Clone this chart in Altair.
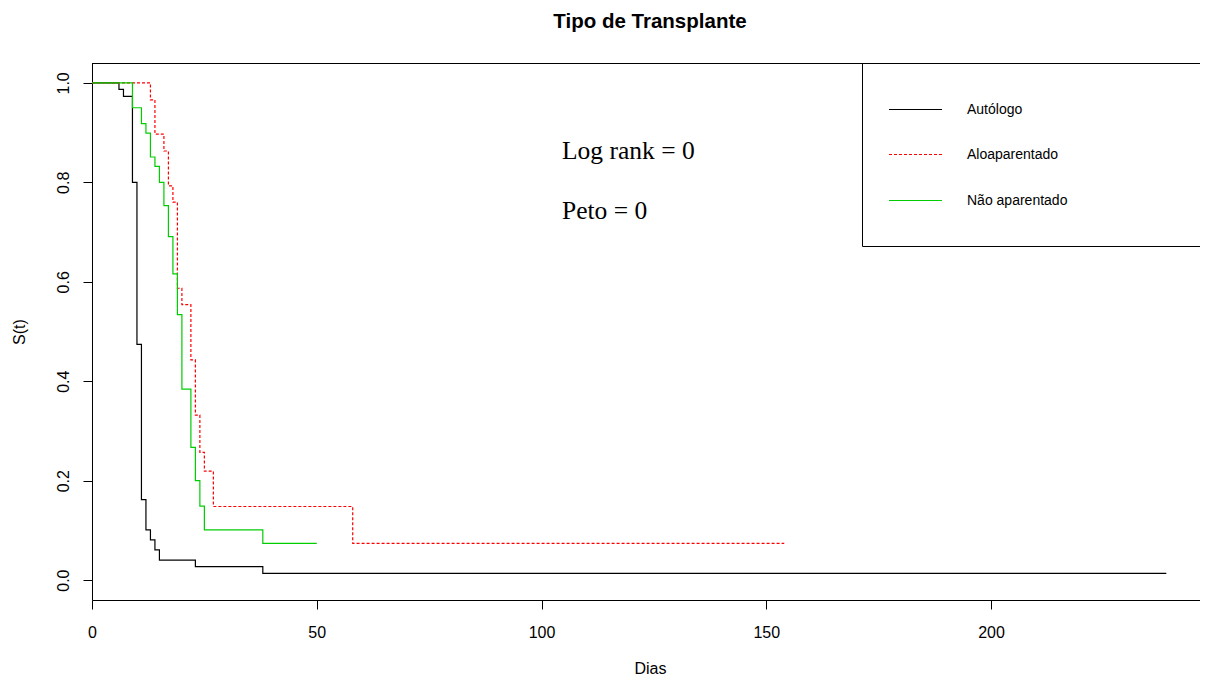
import altair as alt
import pandas as pd

# ---- data ----
categories = ["Autólogo", "Aloaparentado", "Não aparentado"]
colors = ["#000000", "#FF0000", "#00CD00"]
dash_patterns = [[1, 0], [3, 2], [1, 0]]

times_auto = [0, 6, 7, 9, 10, 11, 12, 13, 14, 15, 23, 38, 239]
surv_auto = [1.0, 0.987, 0.973, 0.800, 0.474, 0.162, 0.101, 0.081, 0.061, 0.040, 0.027, 0.0135, 0.0135]

times_aloap = [0, 13, 14, 16, 17, 18, 19, 20, 22, 23, 24, 25, 27, 58, 154]
surv_aloap = [1.0, 0.966, 0.897, 0.863, 0.793, 0.760, 0.587, 0.554, 0.443, 0.332, 0.257, 0.219, 0.148, 0.074, 0.074]

times_naoap = [0, 9, 11, 12, 13, 14, 15, 16, 17, 18, 19, 20, 22, 23, 24, 25, 38, 50]
surv_naoap = [1.0, 0.950, 0.918, 0.899, 0.851, 0.832, 0.800, 0.753, 0.691, 0.616, 0.534, 0.384, 0.267, 0.200, 0.149, 0.101, 0.074, 0.074]

x_ticks = [0, 50, 100, 150, 200]
y_ticks = [0.0, 0.2, 0.4, 0.6, 0.8, 1.0]
annotations = ["Log rank = 0", "Peto = 0"]
chart_title = "Tipo de Transplante"
x_title = "Dias"
y_title = "S(t)"

# ---- build table ----
rows = []
for cat, ts, ss in zip(categories,
                       [times_auto, times_aloap, times_naoap],
                       [surv_auto, surv_aloap, surv_naoap]):
    for i, (t, s) in enumerate(zip(ts, ss)):
        rows.append({"grupo": cat, "dias": t, "S": s, "ordem": i})
df = pd.DataFrame(rows)

W, H = 1108, 537
X_MAX = W / 4.495
SANS = "Liberation Sans"
SERIF = "Liberation Serif"

color_scale = alt.Scale(domain=categories, range=colors)
dash_scale = alt.Scale(domain=categories, range=dash_patterns)

curves = alt.Chart(df).mark_line(interpolate="step-after", strokeWidth=1.2).encode(
    x=alt.X("dias:Q",
            scale=alt.Scale(domain=[0, X_MAX], nice=False, zero=False),
            axis=alt.Axis(values=x_ticks, title=x_title, grid=False,
                          tickSize=9, labelPadding=15, labelFlush=False,
                          labelFont=SANS, labelFontSize=16, labelColor="black",
                          titleFont=SANS, titleFontSize=16, titleFontWeight="normal",
                          titleColor="black", titleX=558, titleY=73,
                          titleBaseline="alphabetic", titleAlign="center",
                          domainColor="black", tickColor="black")),
    y=alt.Y("S:Q",
            scale=alt.Scale(domain=[-0.04, 1.04], nice=False, zero=False),
            axis=alt.Axis(values=y_ticks, format=".1f", title=y_title, grid=False,
                          tickSize=9, labelPadding=15, labelFlush=False,
                          labelAngle=270, labelAlign="center", labelBaseline="alphabetic",
                          labelFont=SANS, labelFontSize=16, labelColor="black",
                          titleFont=SANS, titleFontSize=16, titleFontWeight="normal",
                          titleColor="black", titleAngle=270, titleX=-73, titleY=268.5,
                          titleAlign="center", titleBaseline="middle",
                          domainColor="black", tickColor="black")),
    color=alt.Color("grupo:N", scale=color_scale, legend=None),
    strokeDash=alt.StrokeDash("grupo:N", scale=dash_scale, legend=None),
    detail="grupo:N",
    order="ordem:Q",
)

one = pd.DataFrame({"k": [0]})

top_border = alt.Chart(one).mark_rule(color="black", strokeWidth=1).encode(
    x=alt.value(0), x2=alt.value(W), y=alt.value(0.5))

# legend box (its right side is cut by the picture edge, as in the reference)
LX, LB = 770.5, 183.5
legend_left = alt.Chart(one).mark_rule(color="black", strokeWidth=1).encode(
    x=alt.value(LX), y=alt.value(0), y2=alt.value(LB))
legend_bottom = alt.Chart(one).mark_rule(color="black", strokeWidth=1).encode(
    x=alt.value(LX), x2=alt.value(W), y=alt.value(LB))

legend_layers = []
legend_rows_y = [46.5, 91.5, 137.5]
for cat, col, dsh, ly in zip(categories, colors, dash_patterns, legend_rows_y):
    d = pd.DataFrame({"grupo": [cat]})
    legend_layers.append(
        alt.Chart(d).mark_rule(color=col, strokeDash=dsh, strokeWidth=1.2).encode(
            x=alt.value(797), x2=alt.value(850), y=alt.value(ly)))
    legend_layers.append(
        alt.Chart(d).mark_text(align="left", baseline="middle", font=SANS,
                               fontSize=14, color="black").encode(
            x=alt.value(875), y=alt.value(ly), text="grupo:N"))

annot_layers = []
for txt, ay in zip(annotations, [96, 156]):
    annot_layers.append(
        alt.Chart(pd.DataFrame({"rotulo": [txt]})).mark_text(
            align="left", baseline="alphabetic", font=SERIF, fontSize=25.5,
            color="black").encode(x=alt.value(470), y=alt.value(ay), text="rotulo:N"))

chart = alt.layer(curves, top_border, legend_left, legend_bottom,
                  *legend_layers, *annot_layers).properties(
    width=W, height=H,
    title=alt.TitleParams(chart_title, font=SANS, fontSize=20.5, fontWeight="bold",
                          color="black", anchor="middle", frame="group", dx=4, offset=30),
    autosize=alt.AutoSizeParams(type="none"),
    padding={"left": 84, "top": 55, "right": 0, "bottom": 78},
).configure_view(stroke=None).configure(background="white")

chart.save("out.html", embed_options={"renderer": "svg", "actions": False})
